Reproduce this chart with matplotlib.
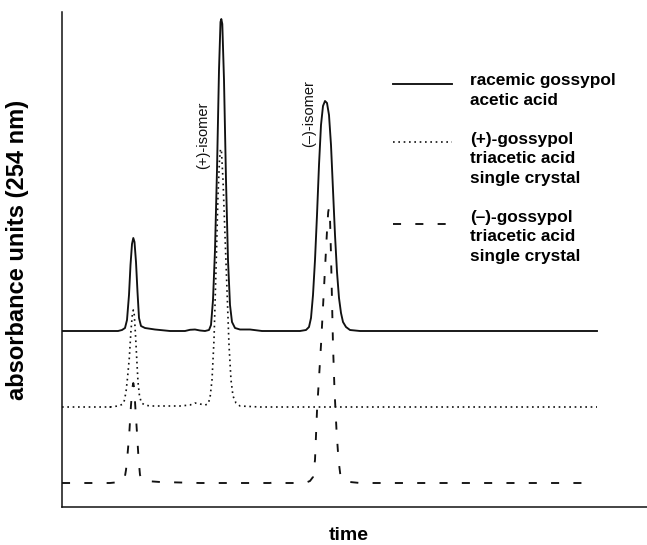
import matplotlib
matplotlib.use("Agg")
import matplotlib.pyplot as plt
from matplotlib.lines import Line2D
from matplotlib.legend_handler import HandlerLine2D

plt.rcParams['font.family'] = ['Liberation Sans', 'DejaVu Sans']

# ---- data (time in arbitrary min, absorbance offset per trace) ----
racemic_t = [0.0, 3.8, 5.6, 6.0, 6.3, 6.5, 6.7, 6.85, 7.0, 7.13, 7.25, 7.4, 7.55, 7.7, 7.9,
             8.3, 9.3, 10.8, 12.3, 12.8, 13.3, 13.8, 14.3, 14.7, 14.9, 15.1, 15.3, 15.5, 15.7,
             15.85, 15.93, 16.03, 16.2, 16.4, 16.6, 16.8, 17.0, 17.3, 17.8, 18.8, 20.0, 23.8,
             24.4, 24.7, 24.9, 25.1, 25.3, 25.5, 25.7, 25.9, 26.1, 26.3, 26.5, 26.7, 26.9, 27.1,
             27.3, 27.5, 27.7, 27.9, 28.1, 28.4, 28.8, 29.8, 53.5]
racemic_a = [1.76, 1.76, 1.76, 1.77, 1.79, 1.87, 2.12, 2.42, 2.63, 2.69, 2.65, 2.45, 2.15, 1.89, 1.81,
             1.79, 1.775, 1.76, 1.76, 1.772, 1.775, 1.765, 1.76, 1.77, 1.82, 2.07, 2.57, 3.37, 4.37,
             4.85, 4.88, 4.83, 4.27, 3.27, 2.47, 2.02, 1.85, 1.79, 1.775, 1.775, 1.76, 1.76,
             1.77, 1.80, 1.89, 2.12, 2.47, 2.92, 3.42, 3.82, 4.01, 4.06, 4.04, 3.92, 3.62, 3.17,
             2.72, 2.35, 2.09, 1.94, 1.85, 1.80, 1.77, 1.76, 1.76]

plus_t = [0.0, 4.8, 5.6, 6.0, 6.2, 6.4, 6.55, 6.73, 6.9, 7.03, 7.13, 7.23, 7.35, 7.47, 7.6,
          7.75, 7.95, 8.3, 8.8, 11.8, 12.8, 13.3, 13.8, 14.3, 14.6, 14.8, 15.0, 15.2, 15.4,
          15.6, 15.75, 15.85, 15.95, 16.1, 16.3, 16.5, 16.7, 16.9, 17.1, 17.4, 17.8, 19.8, 53.5]
plus_a = [1.00, 1.00, 1.01, 1.025, 1.05, 1.15, 1.29, 1.49, 1.77, 1.92, 1.97, 1.92, 1.72, 1.49, 1.25,
          1.11, 1.04, 1.02, 1.01, 1.01, 1.02, 1.04, 1.03, 1.02, 1.03, 1.09, 1.27, 1.67, 2.37,
          3.12, 3.47, 3.58, 3.55, 3.27, 2.72, 2.17, 1.62, 1.27, 1.11, 1.04, 1.01, 1.00, 1.00]

minus_t = [0.0, 4.8, 5.8, 6.0, 6.25, 6.4, 6.55, 6.73, 6.9, 7.05, 7.13, 7.22, 7.35, 7.5, 7.65,
           7.8, 8.0, 8.4, 9.8, 13.8, 20.8, 21.3, 22.3, 24.3, 24.8, 25.1, 25.3, 25.5, 25.7,
           25.9, 26.1, 26.3, 26.5, 26.62, 26.7, 26.78, 26.9, 27.0, 27.1, 27.25, 27.45, 27.65,
           27.85, 28.1, 28.8, 29.8, 53.0]
minus_a = [0.24, 0.24, 0.25, 0.255, 0.28, 0.37, 0.52, 0.74, 1.02, 1.20, 1.24, 1.19, 0.97, 0.74, 0.49,
           0.32, 0.27, 0.26, 0.25, 0.24, 0.24, 0.25, 0.24, 0.24, 0.26, 0.30, 0.47, 0.96, 1.29,
           1.62, 2.00, 2.38, 2.76, 2.95, 2.99, 2.96, 2.52, 2.07, 1.62, 1.17, 0.77, 0.47,
           0.31, 0.27, 0.25, 0.24, 0.24]

legend_labels = ["racemic gossypol", "acetic acid", " ",
                 "(+)-gossypol", "triacetic acid", "single crystal", " ",
                 "(\u2013)-gossypol", "triacetic acid", "single crystal"]
peak_labels = ["(+)-isomer", "(\u2013)-isomer"]
peak_label_pos = [(14.1, 3.72), (24.75, 3.93)]

xlabel = "time"
ylabel = "absorbance units (254 nm)"

# ---- figure ----
W, H = 647, 545
fig = plt.figure(figsize=(W / 100, H / 100), dpi=100)
ax = fig.add_axes([62 / W, (H - 507) / H, (W - 62) / W, 495 / H])
ax.set_xlim(0, 58.5)
ax.set_ylim(0, 4.95)

col = "#111111"
l_solid, = ax.plot(racemic_t, racemic_a, color=col, lw=1.35, solid_joinstyle="round")
l_dot, = ax.plot(plus_t, plus_a, color=col, lw=1.2, linestyle=(0, (1, 2.2)))
l_dash, = ax.plot(minus_t, minus_a, color=col, lw=1.35, linestyle=(0, (4.3, 7.6)))

for s in ["top", "right"]:
    ax.spines[s].set_visible(False)
for s in ["left", "bottom"]:
    ax.spines[s].set_linewidth(1.1)
    ax.spines[s].set_color(col)
ax.set_xticks([])
ax.set_yticks([])

ax.set_xlabel(xlabel, fontsize=14, fontweight="bold")
ax.xaxis.set_label_coords((349 - 62) / 585, -0.040)
ax.set_ylabel(ylabel, fontsize=17, fontweight="bold", va="center")
ax.yaxis.set_label_coords((18 - 62) / 585, 0.52)

for txt, (x, y) in zip(peak_labels, peak_label_pos):
    ax.text(x, y, txt, rotation=90, ha="center", va="center", fontsize=10.5, color=col)


class ShiftedLine(HandlerLine2D):
    """Legend line handler that lowers the sample line by dy points."""
    def __init__(self, dy, **kw):
        super().__init__(**kw)
        self.dy = dy

    def create_artists(self, legend, orig_handle, xdescent, ydescent,
                       width, height, fontsize, trans):
        return super().create_artists(legend, orig_handle, xdescent,
                                      ydescent + 2 * self.dy, width, height,
                                      fontsize, trans)


blank = Line2D([], [], linestyle="none")
handles = [l_solid, blank, blank, l_dot, blank, blank, blank, l_dash, blank, blank]
fig.legend(handles, legend_labels, loc="upper left",
           bbox_to_anchor=(393 / W, 1 - 73 / H), frameon=False,
           borderpad=0, borderaxespad=0, handlelength=3.4, handletextpad=1.1,
           labelspacing=0.26, prop={"weight": "bold", "size": 12.4},
           handler_map={l_solid: ShiftedLine(3.5), l_dot: ShiftedLine(3.0),
                        l_dash: ShiftedLine(6.0)})

fig.savefig("out.png", dpi=100)
